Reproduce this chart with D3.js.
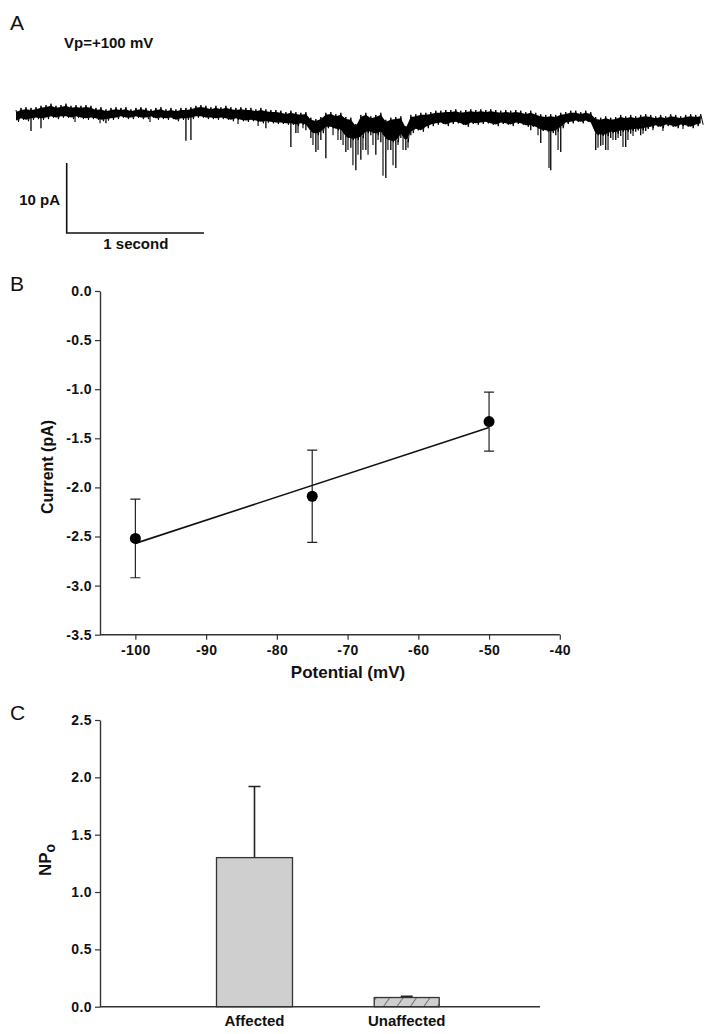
<!DOCTYPE html>
<html>
<head>
<meta charset="utf-8">
<script src="https://cdn.jsdelivr.net/npm/d3@7"></script>
<style>
  html, body { margin: 0; padding: 0; background: #fff; }
  svg { display: block; }
  text { font-family: "Liberation Sans", Arial, Helvetica, sans-serif; }
</style>
</head>
<body>
<svg id="chart" width="714" height="1034"></svg>
<script>
// ---------- DATA ----------
// Panel A: single-channel recording at Vp = +100 mV, read per sampling bin (pA, relative to baseline)
const traceInterval = 0.0364; // s between bins
// upper edge of the noise band
const traceMax = [0,0.3,0.4,0.3,0.4,0.6,0.7,0.9,0.6,0.7,0.9,0.6,0.7,0.6,0.7,0.6,0.3,0.4,0.1,0.3,
  0.4,0.3,0.4,0.1,0.3,0.4,0.3,0.1,0.3,0.4,0.1,0.3,0.1,0.3,0.3,0.4,0.6,0.7,0.6,0.4,
  0.6,0.4,0.6,0.4,0.3,0.4,0.3,0.3,0.1,0.3,0.1,0,0,-0.1,-0.3,-0.1,-0.3,-0.4,-0.3,-1.1,
  -1.3,-1.0,-0.4,-0.3,-0.6,-0.4,-1.0,-1.1,-2.0,-0.7,-0.4,-0.9,-0.7,-0.4,-1.4,-1.1,-1.0,-0.9,-2.3,-0.7,
  -0.6,-0.4,-0.4,-0.3,-0.1,-0.1,0,0,0.1,-0.1,0,0.1,0,0.1,0,0.1,0,-0.1,0,-0.1,
  0,-0.1,-0.3,-0.1,-0.4,-0.6,-0.7,-0.6,-0.7,-0.4,-0.3,-0.1,-0.1,-0.3,-0.1,-0.3,-1.0,-1.1,-0.9,-1.1,
  -1.0,-0.7,-0.9,-0.7,-0.9,-0.7,-0.6,-0.7,-0.9,-0.7,-0.9,-0.6,-0.7,-0.9,-0.7,-0.6,-0.7,-0.6];
// lower edge of the dense noise band (brief openings excluded)
const traceBandMin = [-1.7,-1.4,-1.6,-1.4,-1.3,-1.4,-1.3,-1.1,-1.3,-1.1,-1.1,-1.3,-1.1,-1.3,-1.4,-1.3,-1.4,-1.6,-1.5,-1.4,
  -1.3,-1.1,-1.3,-1.3,-1.1,-1.3,-1.3,-1.1,-1.4,-1.3,-1.4,-1.3,-1.6,-1.4,-1.4,-1.3,-1.1,-1.1,-1.3,-1.3,
  -1.4,-1.3,-1.4,-1.6,-1.4,-1.6,-1.7,-1.6,-1.7,-1.9,-1.8,-1.9,-2.0,-2.0,-2.1,-2.1,-2.3,-2.1,-2.3,-3.3,
  -3.6,-3.3,-2.6,-2.6,-2.9,-3.0,-4.0,-4.3,-4.3,-4.0,-3.3,-3.3,-3.6,-3.3,-4.3,-4.6,-4.6,-3.6,-4.6,-3.3,
  -2.9,-3.1,-2.6,-2.3,-2.1,-2.0,-2.3,-2.0,-1.9,-2.1,-2.4,-2.0,-2.1,-2.0,-1.9,-2.1,-2.3,-2.0,-2.1,-2.3,
  -2.0,-2.1,-2.4,-2.4,-2.6,-3.0,-3.1,-3.3,-3.1,-2.6,-2.0,-1.9,-1.7,-1.9,-1.7,-2.0,-3.6,-3.7,-3.7,-3.3,
  -3.4,-3.1,-3.1,-3.0,-2.9,-2.9,-2.7,-2.6,-2.4,-2.6,-2.3,-2.4,-2.6,-2.3,-2.4,-2.6,-2.3,-2.1];
// deepest excursion within each bin (channel openings)
const traceMin = [-1.7,-1.4,-1.6,-3.0,-1.3,-2.6,-1.3,-1.1,-1.3,-1.1,-1.1,-1.3,-1.1,-1.3,-1.4,-1.3,-1.4,-1.6,-1.9,-1.4,
  -1.3,-1.1,-1.3,-1.3,-1.1,-1.3,-1.3,-1.1,-1.4,-1.3,-1.4,-1.3,-1.6,-1.4,-4.4,-4.3,-1.1,-1.1,-1.3,-1.3,
  -1.4,-1.3,-1.4,-1.6,-1.4,-1.6,-1.7,-1.6,-1.7,-1.9,-2.6,-1.9,-2.0,-2.0,-2.1,-5.3,-3.3,-2.1,-2.9,-4.0,
  -6.0,-4.3,-6.9,-2.6,-2.9,-4.3,-6.0,-5.4,-8.6,-7.1,-5.7,-3.6,-6.4,-4.6,-9.7,-5.7,-8.3,-4.0,-5.7,-3.6,
  -2.9,-3.1,-2.6,-2.3,-2.1,-2.0,-2.3,-2.0,-1.9,-2.1,-2.4,-2.0,-2.1,-2.0,-1.9,-2.1,-2.3,-2.0,-2.1,-2.3,
  -2.0,-2.1,-2.4,-2.9,-2.6,-4.7,-3.1,-8.6,-3.6,-6.0,-2.0,-1.9,-1.7,-1.9,-1.7,-2.0,-5.7,-5.1,-5.7,-4.0,
  -4.3,-3.7,-5.3,-3.4,-3.1,-3.6,-3.0,-2.6,-2.4,-2.6,-2.3,-2.4,-2.6,-2.3,-2.4,-2.6,-2.3,-2.1];
// further brief openings between bins: time (s) and depth (pA)
const openingTimes = [0.430,0.612,0.976,1.617,1.763,2.054,2.090,2.163,2.200,2.309,2.345,2.382,2.418,2.454,
  2.491,2.527,2.564,2.600,2.637,2.673,2.709,2.746,2.782,2.819,2.855,3.802,3.882,3.948,4.239,4.275,4.312,
  4.348,4.385,4.421,4.457,4.494,4.567,4.639,4.712,4.858];
const openingDepths = [-1.7,-1.9,-1.7,-2.0,-2.3,-3.3,-2.6,-5.0,-5.7,-3.6,-4.3,-5.0,-5.7,-7.9,
  -6.4,-5.7,-6.4,-5.0,-4.3,-9.4,-5.7,-7.9,-5.0,-5.7,-5.4,-3.6,-8.3,-5.7,-5.4,-5.0,-5.7,
  -4.3,-4.0,-5.3,-4.3,-3.7,-3.4,-2.9,-3.0,-2.7];
const scaleBarCurrent = 10; // pA
const scaleBarTime = 1;     // s

// Panel B: I-V relationship
const potentials = [-100, -75, -50];          // mV
const currents = [-2.52, -2.09, -1.33];       // pA
const currentErrUp = [0.40, 0.47, 0.30];      // pA
const currentErrDown = [0.40, 0.47, 0.30];    // pA
const fitPotentials = [-100, -50];
const fitCurrents = [-2.57, -1.39];
const ivXTicks = [-100, -90, -80, -70, -60, -50, -40];
const ivYTicks = [0, -0.5, -1.0, -1.5, -2.0, -2.5, -3.0, -3.5];

// Panel C: open probability
const groups = ["Affected", "Unaffected"];
const npo = [1.30, 0.08];
const npoErr = [0.62, 0.01];
const npoTicks = [0, 0.5, 1.0, 1.5, 2.0, 2.5];

// ---------- DRAWING ----------
const svg = d3.select("#chart");
const ink = "#111";
const axisInk = "#333";
const hy = s => s.replace("\u2212", "-");
const fmt1 = d => hy(d3.format(".1f")(d));
const fmt0 = d => hy(d3.format("d")(d));

function panelLetter(t, x, y) {
  svg.append("text").attr("x", x).attr("y", y).attr("font-size", 21)
    .attr("fill", ink).text(t);
}
function styleAxis(g) {
  g.select(".domain").attr("stroke", axisInk).attr("stroke-width", 1.4);
  g.selectAll(".tick line").attr("stroke", axisInk).attr("stroke-width", 1.2);
  g.selectAll(".tick text").attr("font-family", "Liberation Sans, Arial, sans-serif")
    .attr("font-size", 14).attr("letter-spacing", 0.4).attr("font-weight", "bold").attr("fill", ink);
}
function boldText(x, y, s, size, anchor) {
  return svg.append("text").attr("x", x).attr("y", y).attr("font-size", size)
    .attr("font-weight", "bold").attr("fill", ink).attr("text-anchor", anchor || "start").text(s);
}

// ===== Panel A =====
panelLetter("A", 10, 30);
boldText(64, 48, "Vp=+100 mV", 15);

const xA = d3.scaleLinear().domain([0, 5]).range([16, 16 + 5 * 137.3]);
const yA = d3.scaleLinear().domain([0, -10]).range([110, 180]);
const tOf = i => i * traceInterval;

// dense core of the noise band (inset from the fringe)
svg.append("path")
  .attr("d", d3.area().x((d, i) => xA(tOf(i)))
    .y0((d, i) => yA(traceBandMin[i]) - 1.5).y1(d => yA(d) + 2)(traceMax))
  .attr("fill", "#000");
// ragged fringe: noise swinging between band edges
const zig = [];
traceMax.forEach((v, i) => {
  zig.push([tOf(i), v]);
  zig.push([tOf(i) + traceInterval / 2, traceBandMin[i]]);
});
svg.append("path")
  .attr("d", d3.line().x(d => xA(d[0])).y(d => yA(d[1]))(zig))
  .attr("fill", "none").attr("stroke", "#000").attr("stroke-width", 1);
// brief openings (downward spikes) within bins
svg.append("path")
  .attr("d", traceMin.map((v, i) => v < traceBandMin[i]
      ? `M${xA(tOf(i))},${yA(traceBandMin[i]) - 2}V${yA(v)}` : "").join(""))
  .attr("fill", "none").attr("stroke", "#000").attr("stroke-width", 1.3);
// further openings between bins
svg.append("path")
  .attr("d", openingTimes.map((t, k) => {
    const j = Math.min(traceBandMin.length - 1, Math.round(t / traceInterval));
    return `M${xA(t)},${yA(traceBandMin[j]) - 2}V${yA(openingDepths[k])}`;
  }).join(""))
  .attr("fill", "none").attr("stroke", "#000").attr("stroke-width", 1.1);

// scale bars
const sbX = 66.7, sbY = 233;
const sbLenY = yA(-scaleBarCurrent) - yA(0);
const sbLenX = xA(scaleBarTime) - xA(0);
svg.append("path")
  .attr("d", `M${sbX},${sbY - sbLenY}V${sbY}H${sbX + sbLenX}`)
  .attr("fill", "none").attr("stroke", ink).attr("stroke-width", 1.6);
boldText(60, 205, scaleBarCurrent + " pA", 15, "end");
boldText(sbX + sbLenX / 2 + 0.5, 249, scaleBarTime + " second", 15, "middle");

// ===== Panel B =====
panelLetter("B", 10, 291);
const xB = d3.scaleLinear().domain([-105, -40]).range([100, 559.8]);
const yB = d3.scaleLinear().domain([0, -3.5]).range([291, 634.7]);

const gBy = svg.append("g").attr("transform", "translate(100,0)")
  .call(d3.axisLeft(yB).tickValues(ivYTicks).tickSize(5).tickPadding(3).tickFormat(fmt1).tickSizeOuter(0));
styleAxis(gBy);
const gBx = svg.append("g").attr("transform", "translate(0,634.7)")
  .call(d3.axisBottom(xB).tickValues(ivXTicks).tickSize(5).tickPadding(5).tickFormat(fmt0).tickSizeOuter(0));
styleAxis(gBx);
gBx.select(".domain").attr("d", `M100,0H${xB(-40)}`);

boldText(348, 678, "Potential (mV)", 17, "middle");
svg.append("text").attr("transform", "translate(53,467) rotate(-90)").attr("text-anchor", "middle")
  .attr("font-size", 16).attr("font-weight", "bold").attr("fill", ink).text("Current (pA)");

// fit line
svg.append("path")
  .attr("d", d3.line().x(d => xB(d[0])).y(d => yB(d[1]))(fitPotentials.map((p, i) => [p, fitCurrents[i]])))
  .attr("stroke", ink).attr("stroke-width", 1.6).attr("fill", "none");

// error bars + points
potentials.forEach((p, i) => {
  const x = xB(p);
  const yTop = yB(currents[i] + currentErrUp[i]);
  const yBot = yB(currents[i] - currentErrDown[i]);
  svg.append("path")
    .attr("d", `M${x},${yTop}V${yBot}M${x - 5},${yTop}H${x + 5}M${x - 5},${yBot}H${x + 5}`)
    .attr("stroke", "#222").attr("stroke-width", 1.2).attr("fill", "none");
});
svg.selectAll("circle.pt").data(potentials).enter().append("circle")
  .attr("class", "pt")
  .attr("cx", d => xB(d)).attr("cy", (d, i) => yB(currents[i]))
  .attr("r", 5.5).attr("fill", "#000");

// ===== Panel C =====
panelLetter("C", 10, 720);
const yC = d3.scaleLinear().domain([0, 2.5]).range([1006.7, 720]);
const xC = d3.scalePoint().domain(groups).range([254.5, 406.7]);
const barW = { "Affected": 76, "Unaffected": 65 };

const defs = svg.append("defs");
const pat = defs.append("pattern").attr("id", "hatch").attr("patternUnits", "userSpaceOnUse")
  .attr("width", 11).attr("height", 11).attr("patternTransform", "rotate(35)");
pat.append("rect").attr("width", 11).attr("height", 11).attr("fill", "#cfcfcf");
pat.append("line").attr("x1", 0).attr("y1", 0).attr("x2", 0).attr("y2", 11)
  .attr("stroke", "#333").attr("stroke-width", 1.2);

// error bars (upper only)
groups.forEach((g, i) => {
  const x = xC(g);
  const y0 = yC(npo[i]);
  const y1 = yC(npo[i] + npoErr[i]);
  const cw = 6;
  svg.append("path").attr("d", `M${x},${y0}V${y1}M${x - cw},${y1}H${x + cw}`)
    .attr("stroke", "#222").attr("stroke-width", 1.6).attr("fill", "none");
});

svg.selectAll("rect.bar").data(groups).enter().append("rect")
  .attr("class", "bar")
  .attr("x", d => xC(d) - barW[d] / 2)
  .attr("width", d => barW[d])
  .attr("y", (d, i) => yC(npo[i]))
  .attr("height", (d, i) => yC(0) - yC(npo[i]))
  .attr("fill", (d, i) => i === 0 ? "#cfcfcf" : "url(#hatch)")
  .attr("stroke", "#333").attr("stroke-width", 1.3);

const gCy = svg.append("g").attr("transform", "translate(100,0)")
  .call(d3.axisLeft(yC).tickValues(npoTicks).tickSize(5).tickPadding(3).tickFormat(fmt1).tickSizeOuter(0));
styleAxis(gCy);
svg.append("line").attr("x1", 100).attr("x2", 540).attr("y1", yC(0)).attr("y2", yC(0))
  .attr("stroke", axisInk).attr("stroke-width", 1.4);

groups.forEach(g => boldText(xC(g), 1026, g, 15, "middle"));

const npLabel = svg.append("text").attr("transform", "translate(51,860) rotate(-90)")
  .attr("text-anchor", "middle").attr("font-size", 17).attr("font-weight", "bold").attr("fill", ink);
npLabel.append("tspan").text("NP");
npLabel.append("tspan").attr("dy", 4).attr("font-size", 14).text("o");
</script>
</body>
</html>
